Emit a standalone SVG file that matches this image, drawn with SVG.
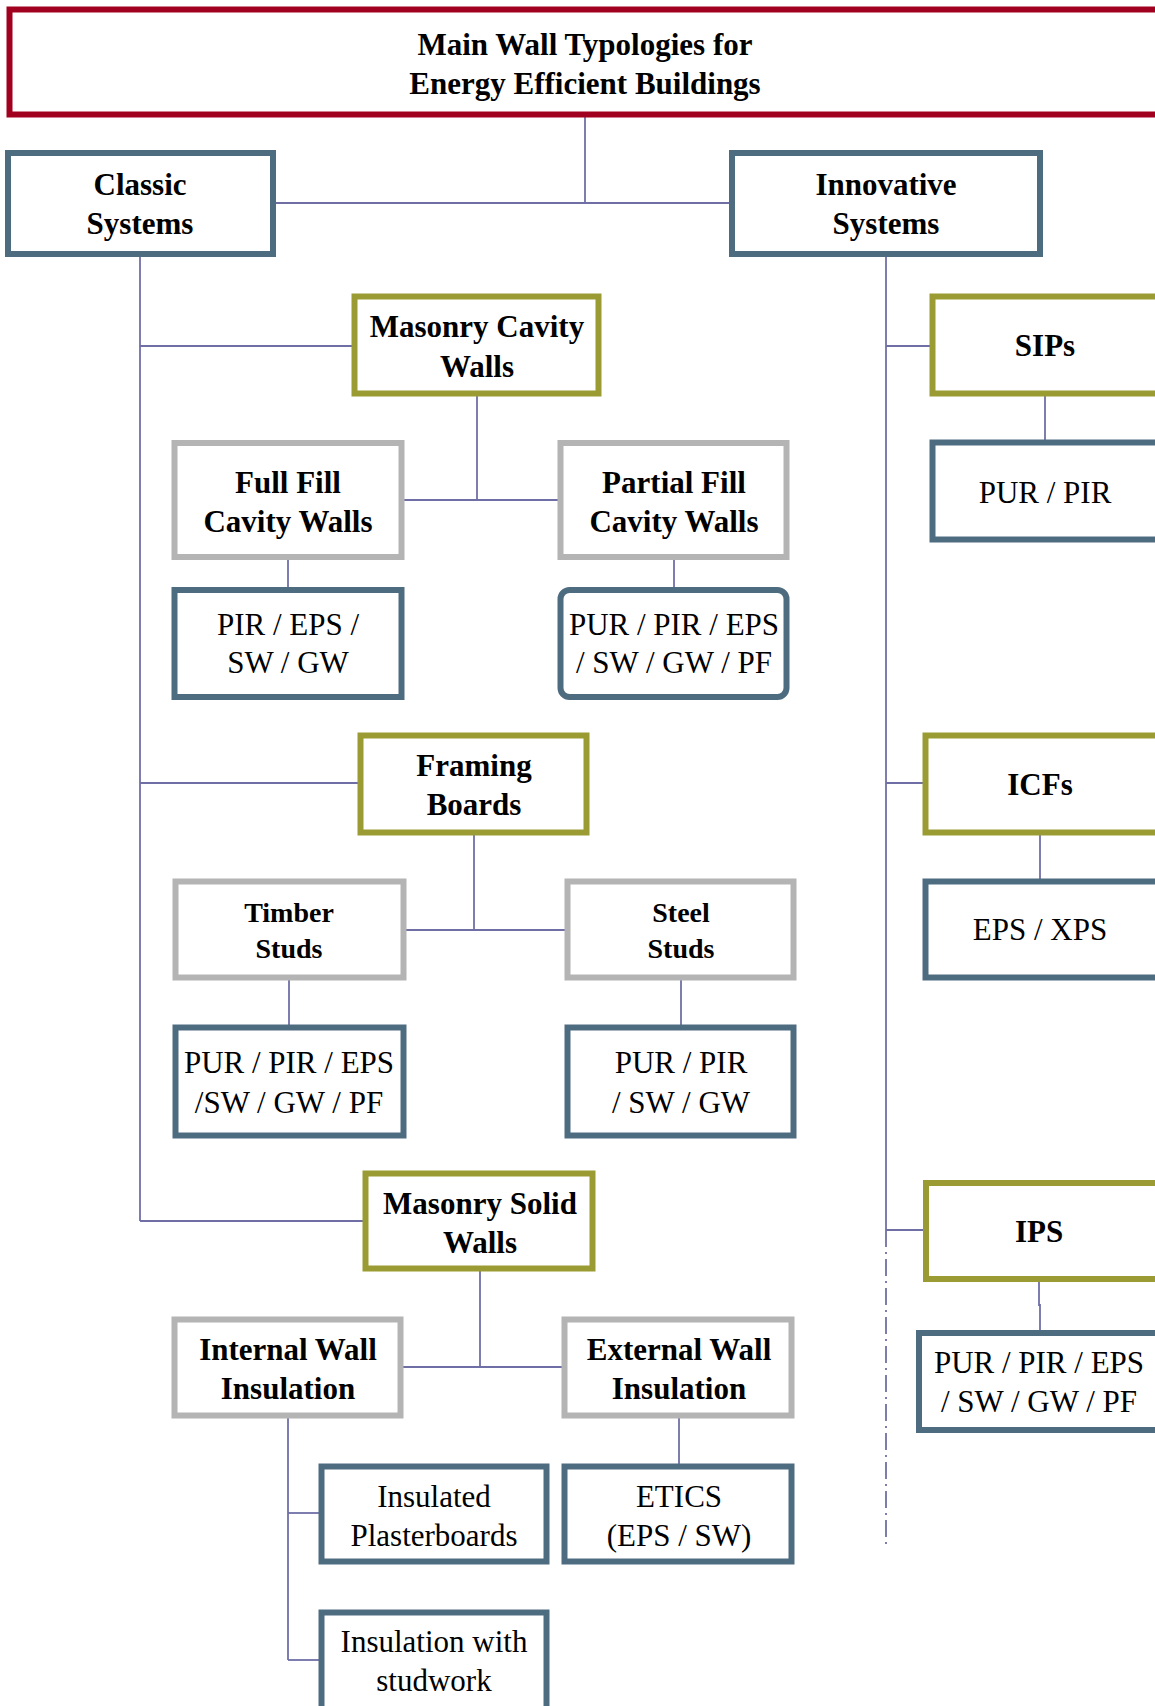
<svg xmlns="http://www.w3.org/2000/svg" width="1155" height="1706" viewBox="0 0 1155 1706">
<style>
rect{fill:#fff;stroke-width:6}
.red{stroke:#A2001F}
.blue{stroke:#4E6C80}
.olive{stroke:#9B9B33}
.gray{stroke:#B4B4B4}
text{font-family:"Liberation Serif","Times New Roman",serif;fill:#000;text-anchor:middle}
.b{font-weight:bold;font-size:31px}
.s{font-weight:bold;font-size:28px}
.r{font-size:31px}
.c line,.c path{stroke:#6F6FA6;stroke-width:1.8;fill:none}
.dd{stroke-dasharray:17 5 2 5}
</style>
<g class="c" id="connectors">
<line x1="585" y1="117" x2="585" y2="203"/>
<line x1="274" y1="203" x2="730" y2="203"/>
<line x1="140" y1="256" x2="140" y2="1221"/>
<line x1="140" y1="346" x2="353" y2="346"/>
<line x1="140" y1="783" x2="359" y2="783"/>
<line x1="140" y1="1221" x2="364" y2="1221"/>
<line x1="477" y1="395" x2="477" y2="500"/>
<line x1="403" y1="500" x2="559" y2="500"/>
<line x1="288" y1="559" x2="288" y2="588"/>
<line x1="674" y1="559" x2="674" y2="588"/>
<line x1="474" y1="834" x2="474" y2="930"/>
<line x1="405" y1="930" x2="566" y2="930"/>
<line x1="289" y1="979" x2="289" y2="1026"/>
<line x1="681" y1="979" x2="681" y2="1026"/>
<line x1="480" y1="1270" x2="480" y2="1367"/>
<line x1="402" y1="1367" x2="563" y2="1367"/>
<line x1="288" y1="1417" x2="288" y2="1660"/>
<line x1="288" y1="1513" x2="320" y2="1513"/>
<line x1="288" y1="1660" x2="320" y2="1660"/>
<line x1="679" y1="1417" x2="679" y2="1465"/>
<line x1="886" y1="256" x2="886" y2="1230"/>
<line class="dd" x1="886" y1="1230" x2="886" y2="1547"/>
<line x1="886" y1="346" x2="931" y2="346"/>
<line x1="886" y1="783" x2="924" y2="783"/>
<line x1="886" y1="1230" x2="923" y2="1230"/>
<line x1="1045" y1="395" x2="1045" y2="441"/>
<line x1="1040" y1="834" x2="1040" y2="880"/>
<path d="M1039 1279 V1305 H1040 V1332"/>
</g>
<g id="title"><rect class="red" x="9.5" y="9.5" width="1155" height="105"/><text class="b" x="585" y="55">Main Wall Typologies for</text><text class="b" x="585" y="94">Energy Efficient Buildings</text></g>
<g id="classic"><rect class="blue" x="8" y="153" width="265" height="101"/><text class="b" x="140" y="195">Classic</text><text class="b" x="140" y="234">Systems</text></g>
<g id="innovative"><rect class="blue" x="732" y="153" width="308" height="101"/><text class="b" x="886" y="195">Innovative</text><text class="b" x="886" y="234">Systems</text></g>
<g id="masonry-cavity"><rect class="olive" x="354.5" y="296.5" width="244" height="97"/><text class="b" x="477" y="337">Masonry Cavity</text><text class="b" x="477" y="377">Walls</text></g>
<g id="full-fill"><rect class="gray" x="174.5" y="443" width="227" height="114"/><text class="b" x="288" y="493">Full Fill</text><text class="b" x="288" y="532">Cavity Walls</text></g>
<g id="partial-fill"><rect class="gray" x="560.5" y="443" width="226" height="114"/><text class="b" x="674" y="493">Partial Fill</text><text class="b" x="674" y="532">Cavity Walls</text></g>
<g id="full-fill-mat"><rect class="blue" x="174.5" y="590" width="227" height="107"/><text class="r" x="288" y="635">PIR / EPS /</text><text class="r" x="288" y="673">SW / GW</text></g>
<g id="partial-fill-mat"><rect class="blue" x="560.5" y="590" width="226" height="107" rx="9"/><text class="r" x="674" y="635">PUR / PIR / EPS</text><text class="r" x="674" y="673">/ SW / GW / PF</text></g>
<g id="sips"><rect class="olive" x="932.5" y="296.5" width="230" height="97"/><text class="b" x="1045" y="356">SIPs</text></g>
<g id="sips-mat"><rect class="blue" x="932.5" y="442.5" width="230" height="97"/><text class="r" x="1045" y="503">PUR / PIR</text></g>
<g id="framing"><rect class="olive" x="360.5" y="735.5" width="226" height="97"/><text class="b" x="474" y="776">Framing</text><text class="b" x="474" y="815">Boards</text></g>
<g id="timber"><rect class="gray" x="175.5" y="881.5" width="228" height="96"/><text class="s" x="289" y="922">Timber</text><text class="s" x="289" y="958">Studs</text></g>
<g id="steel"><rect class="gray" x="567.5" y="881.5" width="226" height="96"/><text class="s" x="681" y="922">Steel</text><text class="s" x="681" y="958">Studs</text></g>
<g id="timber-mat"><rect class="blue" x="175.5" y="1027.5" width="228" height="108"/><text class="r" x="289" y="1073">PUR / PIR / EPS</text><text class="r" x="289" y="1113">/SW / GW / PF</text></g>
<g id="steel-mat"><rect class="blue" x="567.5" y="1027.5" width="226" height="108"/><text class="r" x="681" y="1073">PUR / PIR</text><text class="r" x="681" y="1113">/ SW / GW</text></g>
<g id="icfs"><rect class="olive" x="925.5" y="735.5" width="237" height="97"/><text class="b" x="1040" y="795">ICFs</text></g>
<g id="icfs-mat"><rect class="blue" x="925.5" y="881.5" width="237" height="96"/><text class="r" x="1040" y="940">EPS / XPS</text></g>
<g id="masonry-solid"><rect class="olive" x="365.5" y="1173.5" width="227" height="95"/><text class="b" x="480" y="1214">Masonry Solid</text><text class="b" x="480" y="1253">Walls</text></g>
<g id="internal"><rect class="gray" x="174.5" y="1319.5" width="226" height="96"/><text class="b" x="288" y="1360">Internal Wall</text><text class="b" x="288" y="1399">Insulation</text></g>
<g id="external"><rect class="gray" x="564.5" y="1319.5" width="227" height="96"/><text class="b" x="679" y="1360">External Wall</text><text class="b" x="679" y="1399">Insulation</text></g>
<g id="plasterboards"><rect class="blue" x="321.5" y="1466.5" width="225" height="95"/><text class="r" x="434" y="1507">Insulated</text><text class="r" x="434" y="1546">Plasterboards</text></g>
<g id="etics"><rect class="blue" x="564.5" y="1466.5" width="227" height="95"/><text class="r" x="679" y="1507">ETICS</text><text class="r" x="679" y="1546">(EPS / SW)</text></g>
<g id="studwork"><rect class="blue" x="321.5" y="1612.5" width="225" height="112"/><text class="r" x="434" y="1652">Insulation with</text><text class="r" x="434" y="1691">studwork</text></g>
<g id="ips"><rect class="olive" x="926" y="1183" width="237" height="96"/><text class="b" x="1039" y="1242">IPS</text></g>
<g id="ips-mat"><rect class="blue" x="919" y="1333" width="244" height="97"/><text class="r" x="1039" y="1373">PUR / PIR / EPS</text><text class="r" x="1039" y="1412">/ SW / GW / PF</text></g>
</svg>
